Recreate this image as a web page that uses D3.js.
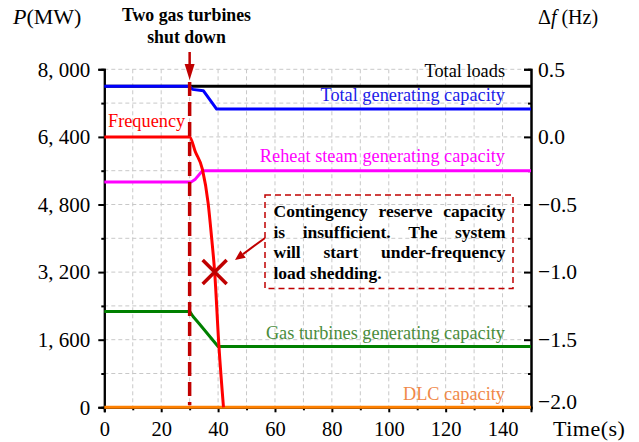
<!DOCTYPE html>
<html>
<head>
<meta charset="utf-8">
<script src="https://cdn.jsdelivr.net/npm/d3@7"></script>
<style>
  html, body { margin: 0; padding: 0; background: #fff; }
  svg text { font-family: "Liberation Serif", "Times New Roman", Times, serif; }
</style>
</head>
<body>
<svg id="chart" width="639" height="442"></svg>
<script>
// ---- data ----
const loadTime = [0, 150];
const loadMW = [7600, 7600];

const genTime = [0, 30, 31, 34.8, 39.5, 150];
const genMW = [7600, 7600, 7525, 7495, 7060, 7060];

const reheatTime = [0, 30.5, 32, 34.5, 150];
const reheatMW = [5330, 5330, 5400, 5600, 5600];

const gasTime = [0, 30, 31.2, 33.6, 40, 150];
const gasMW = [2270, 2270, 2150, 1960, 1440, 1440];

const dlcTime = [0, 150];
const dlcMW = [0, 0];

const freqTime = [0, 30, 32, 34.5, 36.5, 37.7, 38.8, 40.3, 41.9];
const freqHz = [0, 0, -0.11, -0.24, -0.49, -0.74, -1.0, -1.55, -2.0];

const tripTime = 30;                 // both gas turbines shut down
const sheddingPoint = { t: 38.8, mw: 3200 };

const timeTicks = [0, 20, 40, 60, 80, 100, 120, 140];
const powerTicks = [0, 1600, 3200, 4800, 6400, 8000];
const powerTickLabels = ["0", "1, 600", "3, 200", "4, 800", "6, 400", "8, 000"];
const freqTicks = [-2.0, -1.5, -1.0, -0.5, 0.0, 0.5];
const freqTickLabels = ["\u22122.0", "\u22121.5", "\u22121.0", "\u22120.5", "0.0", "0.5"];

const noteLines = [
  "Contingency reserve capacity",
  "is insufficient. The system",
  "will start under-frequency",
  "load shedding."
];

// ---- layout ----
const svg = d3.select("#chart");
const plotL = 104.3, plotR = 531, plotT = 69.3, plotB = 407.3;
const darkRed = "#c00000";

const x = d3.scaleLinear().domain([0, 150]).range([plotL, plotR]);
const yP = d3.scaleLinear().domain([0, 8000]).range([plotB, plotT]);
const yF = d3.scaleLinear().domain([-2.0, 0.5]).range([plotB, plotT]);

// grid
const grid = svg.append("g").attr("stroke", "#c8c8c8").attr("stroke-width", 1)
  .attr("stroke-dasharray", "4,3");
grid.selectAll("line.v").data(d3.range(10, 150, 10)).join("line")
  .attr("class", "v").attr("x1", d => x(d)).attr("x2", d => x(d))
  .attr("y1", plotT).attr("y2", plotB);
grid.selectAll("line.h").data(d3.range(800, 8001, 800)).join("line")
  .attr("class", "h").attr("x1", plotL).attr("x2", plotR)
  .attr("y1", d => yP(d)).attr("y2", d => yP(d));

// axes
function styleAxis(size) {
  return g => {
    g.select(".domain").attr("stroke", "#000").attr("stroke-width", 2);
    g.selectAll(".tick line").attr("stroke", "#000").attr("stroke-width", 2);
    g.selectAll("text").attr("font-size", size).attr("fill", "#000");
  };
}

// minor ticks
svg.append("g").attr("transform", `translate(0,${plotB})`)
  .call(d3.axisBottom(x).tickValues(d3.range(10, 150, 20)).tickSize(3).tickFormat(""))
  .call(styleAxis(20));
svg.append("g").attr("transform", `translate(${plotL},0)`)
  .call(d3.axisLeft(yP).tickValues(d3.range(800, 8000, 1600)).tickSize(3).tickFormat(""))
  .call(styleAxis(20));
svg.append("g").attr("transform", `translate(${plotR},0)`)
  .call(d3.axisRight(yF).tickValues([-1.75, -1.25, -0.75, -0.25, 0.25]).tickSize(-3).tickFormat(""))
  .call(styleAxis(20));

// major ticks
svg.append("g").attr("transform", `translate(0,${plotB})`)
  .call(d3.axisBottom(x).tickValues(timeTicks).tickSize(5).tickPadding(9).tickFormat(d3.format("d")))
  .call(styleAxis(20.5));
svg.append("g").attr("transform", `translate(${plotL},0)`)
  .call(d3.axisLeft(yP).tickValues(powerTicks).tickSize(6).tickPadding(8)
    .tickFormat((d, i) => powerTickLabels[i]))
  .call(styleAxis(21));
svg.append("g").attr("transform", `translate(${plotR},0)`)
  .call(d3.axisRight(yF).tickValues(freqTicks).tickSize(-7).tickPadding(7)
    .tickFormat((d, i) => freqTickLabels[i]))
  .call(styleAxis(21.5))
  // lift the lowest label clear of the time-axis title
  .call(g => g.selectAll(".tick text").filter(d => d === -2.0).attr("y", -6));

// axis titles
const pTitle = svg.append("text").attr("x", 13).attr("y", 24).attr("font-size", 22);
pTitle.append("tspan").attr("font-style", "italic").text("P");
pTitle.append("tspan").text("(MW)");

const fTitle = svg.append("text").attr("x", 538).attr("y", 24).attr("font-size", 20);
fTitle.append("tspan").text("\u0394");
fTitle.append("tspan").attr("font-style", "italic").text("f");
fTitle.append("tspan").text(" (Hz)");

svg.append("text").attr("x", 553).attr("y", 436).attr("font-size", 22)
  .attr("letter-spacing", 0.5).text("Time(s)");

// series
const lineP = (ts, vs) => d3.line().x((d, i) => x(ts[i])).y(d => yP(d))(vs);
function drawPower(ts, vs, color) {
  svg.append("path").attr("d", lineP(ts, vs)).attr("fill", "none")
    .attr("stroke", color).attr("stroke-width", 3).attr("stroke-linejoin", "round");
}
drawPower(loadTime, loadMW, "#000000");
drawPower(genTime, genMW, "#0000ff");
drawPower(reheatTime, reheatMW, "#ff00ff");
drawPower(gasTime, gasMW, "#008000");
drawPower(dlcTime, dlcMW, "#ff8000");

const freqLine = d3.line().x((d, i) => x(freqTime[i])).y(d => yF(d)).curve(d3.curveMonotoneX);
svg.append("path").attr("d", freqLine(freqHz)).attr("fill", "none")
  .attr("stroke", "#ff0000").attr("stroke-width", 3);

// series labels
const labelSize = 18.3;
function seriesLabel(text, mw, color, xPos, dy) {
  svg.append("text").attr("x", xPos).attr("y", yP(mw) + dy)
    .attr("text-anchor", "end").attr("font-size", labelSize).attr("fill", color).text(text);
}
seriesLabel("Total loads", loadMW[1], "#000", 505, -9);
seriesLabel("Total generating capacity", genMW[genMW.length - 1], "#2020e8", 505, -8);
seriesLabel("Reheat steam generating capacity", reheatMW[reheatMW.length - 1], "#ff00ff", 505, -9);
seriesLabel("Gas turbines generating capacity", gasMW[gasMW.length - 1], "#4a8c3c", 505, -7.5);
seriesLabel("DLC capacity", 0, "#f08848", 505, -7.5);
svg.append("text").attr("x", 108).attr("y", yF(0) - 10).attr("font-size", labelSize)
  .attr("fill", "#ff0000").text("Frequency");

// trip marker: arrow and dashed line
const xt = x(tripTime);
svg.append("line").attr("x1", xt).attr("x2", xt).attr("y1", 82).attr("y2", plotB - 2)
  .attr("stroke", darkRed).attr("stroke-width", 3.5).attr("stroke-dasharray", "14,6");
svg.append("line").attr("x1", xt).attr("x2", xt).attr("y1", 52).attr("y2", 68)
  .attr("stroke", darkRed).attr("stroke-width", 2.5);
svg.append("path").attr("d", `M${xt - 5},64 L${xt + 5},64 L${xt},80 Z`).attr("fill", darkRed);

const tripLabel = svg.append("text").attr("text-anchor", "middle")
  .attr("font-size", 17.8).attr("font-weight", "bold");
tripLabel.append("tspan").attr("x", 186.5).attr("y", 21).text("Two gas turbines");
tripLabel.append("tspan").attr("x", 186.5).attr("y", 43).text("shut down");

// load-shedding point
const cx = x(sheddingPoint.t), cy = yP(sheddingPoint.mw), r = 12;
svg.append("path").attr("d", `M${cx - r},${cy - r} L${cx + r},${cy + r} M${cx - r},${cy + r} L${cx + r},${cy - r}`)
  .attr("stroke", darkRed).attr("stroke-width", 3.5);

// note box
const box = { x0: 265, x1: 513, y0: 195, y1: 288.5 };
svg.append("rect").attr("x", box.x0).attr("y", box.y0)
  .attr("width", box.x1 - box.x0).attr("height", box.y1 - box.y0)
  .attr("fill", "none").attr("stroke", darkRed).attr("stroke-width", 1.5)
  .attr("stroke-dasharray", "6,4");

// justified note text: words spread across each full line
const textLeft = 273.5, textRight = 505.5;
noteLines.forEach((line, li) => {
  const y = 217 + li * 20.7;
  const words = line.split(" ");
  const g = svg.append("g");
  const nodes = words.map(w => g.append("text").attr("y", y).attr("font-size", 17.5)
    .attr("font-weight", "bold").text(w));
  const widths = nodes.map(n => n.node().getComputedTextLength());
  const total = d3.sum(widths);
  const last = li === noteLines.length - 1;
  const gap = last ? 4.5 : (textRight - textLeft - total) / (words.length - 1);
  let cur = textLeft;
  nodes.forEach((n, i) => { n.attr("x", cur); cur += widths[i] + gap; });
});

// arrow from note to the point
const ax0 = 265, ay0 = 238, ax1 = 235, ay1 = 260;
const ang = Math.atan2(ay1 - ay0, ax1 - ax0);
const hl = 10, hw = 4.5;
const bx = ax1 - hl * Math.cos(ang), by = ay1 - hl * Math.sin(ang);
svg.append("line").attr("x1", ax0).attr("y1", ay0).attr("x2", bx).attr("y2", by)
  .attr("stroke", darkRed).attr("stroke-width", 2);
svg.append("path").attr("d",
  `M${ax1},${ay1} L${bx - hw * Math.sin(ang)},${by + hw * Math.cos(ang)} L${bx + hw * Math.sin(ang)},${by - hw * Math.cos(ang)} Z`)
  .attr("fill", darkRed);
</script>
</body>
</html>
